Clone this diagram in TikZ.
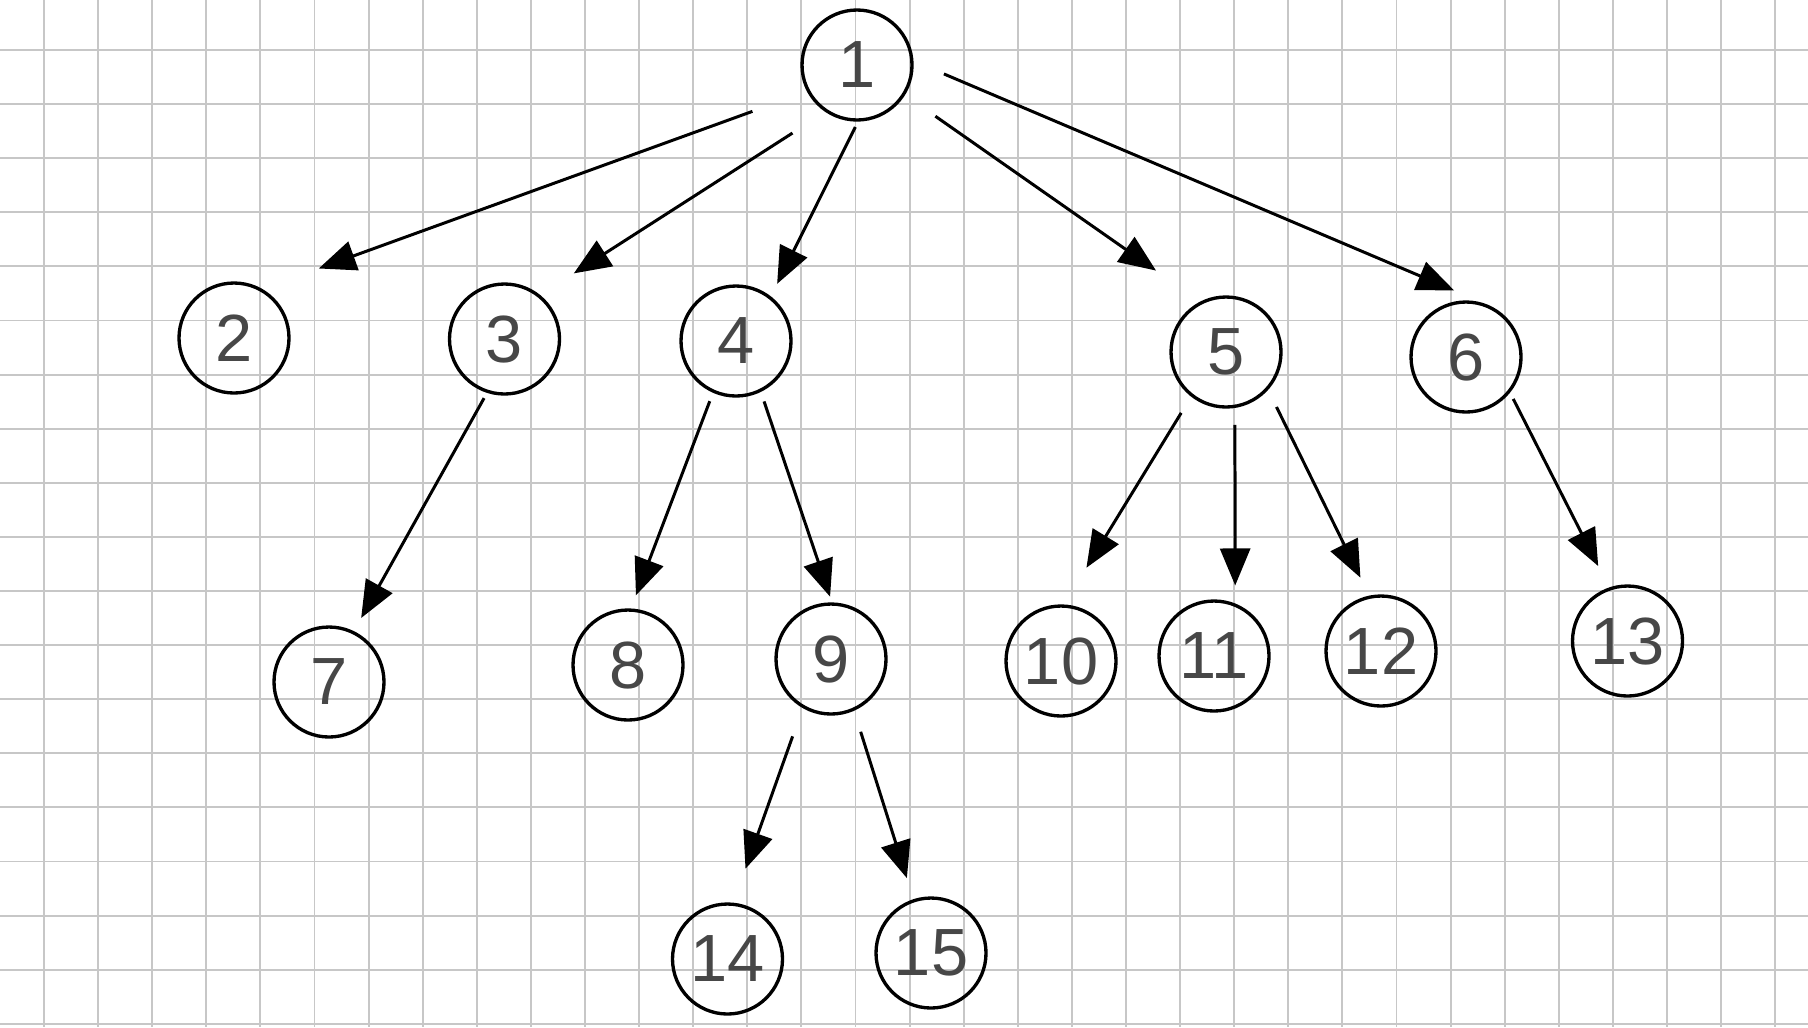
\documentclass[tikz,border=0pt]{standalone}
\usepackage{xcolor}
\usepackage{fontspec}
\setmainfont{Liberation Sans}
\usepackage{tikz}
\usetikzlibrary{positioning,arrows.meta,calc}

\tikzset{
    vertex/.style={circle, draw, line width=0.95pt, minimum size=1.1cm, inner sep=0pt,
        text=black!72, font=\fontsize{19}{19}\selectfont},
    edge/.style={-{Triangle[length=3.7mm,width=3mm]}, line width=0.85pt},
    gap/.style 2 args={shorten <=#1cm, shorten >=#2cm},
    gridline/.style={black!22, line width=0.55pt}
}

\begin{document}
\begin{tikzpicture}
    \fill[white] (0,0) rectangle (18.08,-10.27);
    \useasboundingbox (0,0) rectangle (18.08,-10.27);

    % squared paper
    \foreach \i in {0,...,32}
        \draw[gridline] ({0.44+0.541*\i},0) -- ({0.44+0.541*\i},-10.27);
    \foreach \j in {0,...,18}
        \draw[gridline] (0,{-0.50-0.541*\j}) -- (18.08,{-0.50-0.541*\j});

    % nodes
    \node[vertex] (n1) at (8.57,-0.65) {1};
    \node[vertex] (n2) at (2.34,-3.38) {2};
    \node[vertex] (n3) at (5.045,-3.39) {3};
    \node[vertex] (n4) at (7.36,-3.41) {4};
    \node[vertex] (n5) at (12.26,-3.52) {5};
    \node[vertex] (n6) at (14.66,-3.57) {6};
    \node[vertex] (n7) at (3.29,-6.82) {7};
    \node[vertex] (n8) at (6.28,-6.65) {8};
    \node[vertex] (n9) at (8.31,-6.59) {9};
    \node[vertex] (n10) at (10.61,-6.61) {10};
    \node[vertex] (n11) at (12.14,-6.56) {11};
    \node[vertex] (n12) at (13.81,-6.51) {12};
    \node[vertex] (n13) at (16.275,-6.41) {13};
    \node[vertex] (n14) at (7.275,-9.59) {14};
    \node[vertex] (n15) at (9.31,-9.53) {15};

    % arrows
    \draw[edge, gap={0.58}{0.60}] (n1.208) -- (n2.60);
    \draw[edge, gap={0.39}{0.40}] (n1.236) -- (n3.51);
    \draw[edge, gap={0.06}{0.14}] (n1.271) -- (n4.52);
    \draw[edge, gap={0.37}{0.54}] (n1.328) -- (n5.117);
    \draw[edge, gap={0.33}{0.37}] (n1.4) -- (n6.67);
    \draw[edge, gap={0.06}{0.15}] (n3.252) -- (n7.64);
    \draw[edge, gap={0.09}{0.14}] (n4.246) -- (n8.87);
    \draw[edge, gap={0.10}{0.06}] (n4.296) -- (n9.89);
    \draw[edge, gap={0.19}{0.43}] (n5.232) -- (n10.87);
    \draw[edge, gap={0.17}{0.18}] (n5.279) -- (n11.68);
    \draw[edge, gap={0.19}{0.20}] (n5.318) -- (n12.102);
    \draw[edge, gap={0.07}{0.24}] (n6.321) -- (n13.109);
    \draw[edge, gap={0.30}{0.36}] (n9.240) -- (n14.84);
    \draw[edge, gap={0.22}{0.22}] (n9.294) -- (n15.108);
\end{tikzpicture}
\end{document}
